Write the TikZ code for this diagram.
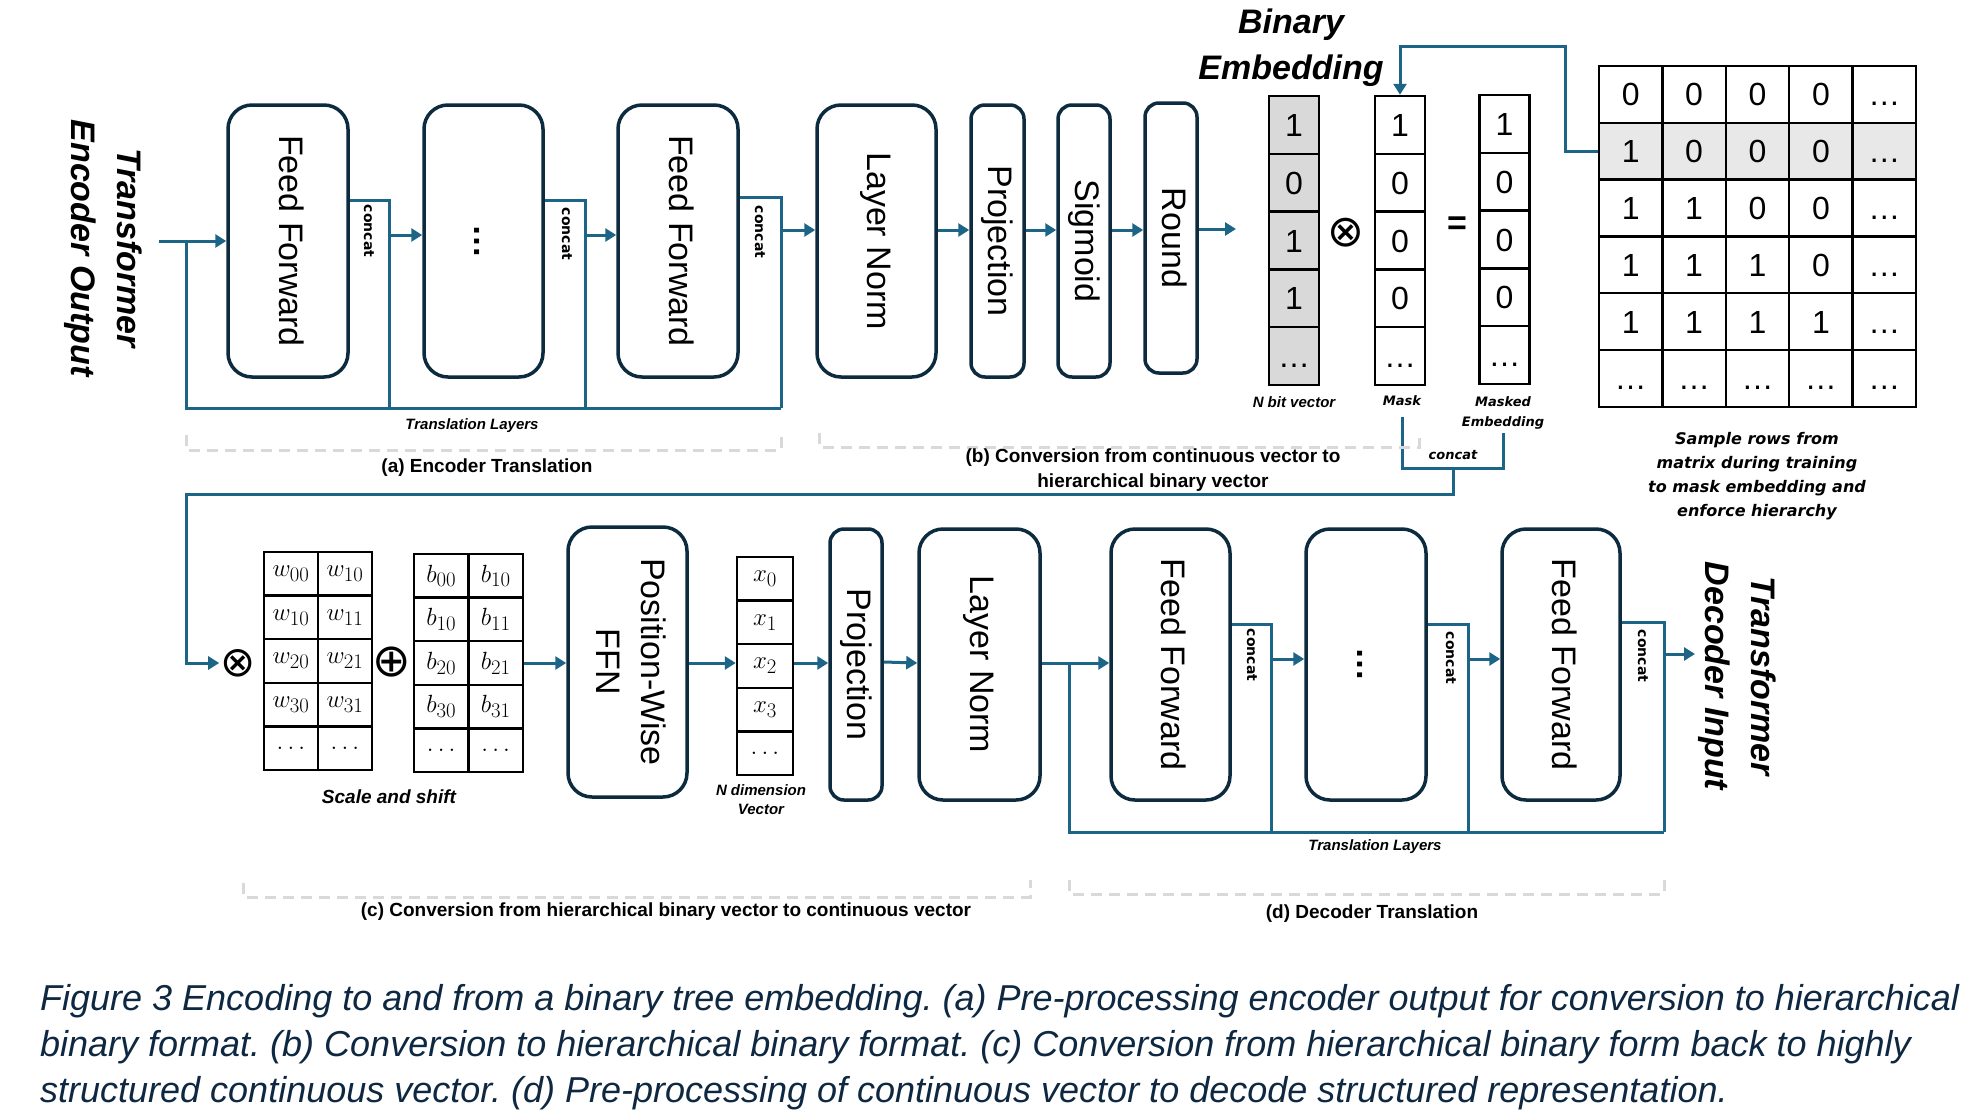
\documentclass[tikz,border=0pt]{standalone}
\usepackage{graphicx}
\usepackage{fontspec}
\setmainfont{Liberation Sans}
\newfontfamily\verdfont{DejaVu Sans}
\usetikzlibrary{arrows.meta}
\frenchspacing

\definecolor{flowblue}{HTML}{1C6587}
\definecolor{boxline}{HTML}{0D2B3E}
\definecolor{bracegray}{HTML}{D9D9D9}
\definecolor{bitgray}{HTML}{D9D9D9}
\definecolor{captext}{HTML}{0E2841}

\newcommand{\vtext}[1]{\rotatebox{-90}{\begin{tabular}{@{}c@{}}#1\end{tabular}}}

\tikzset{
  layer/.style={draw=boxline,line width=3.5pt,rounded corners=24pt,inner sep=0pt,
    minimum height=272pt,font=\fontsize{34}{45}\selectfont},
  slim/.style={layer,rounded corners=14pt},
  link/.style={draw=flowblue,line width=3pt},
  feed/.style={link,-{Triangle[length=11pt,width=13pt]}},
  bit/.style={draw=black,line width=2.5pt,inner sep=0pt,minimum width=50pt,
    minimum height=57.8pt,text height=23pt,text depth=0pt,font=\fontsize{32}{36}\selectfont},
  sym/.style={draw=black,line width=2.5pt,inner sep=0pt,minimum height=43.6pt,
    font=\fontsize{24.88}{28}\selectfont},
  op/.style={font=\verdfont\fontsize{44}{44}\selectfont,inner sep=1pt},
  concat/.style={rotate=-90,font=\verdfont\bfseries\fontsize{14}{16}\selectfont},
  tag/.style={font=\bfseries\itshape\fontsize{15}{19}\selectfont,align=center},
  vtag/.style={font=\verdfont\bfseries\itshape\fontsize{13}{20}\selectfont,align=center},
  note/.style={font=\verdfont\bfseries\itshape\fontsize{16}{24}\selectfont,align=center},
  part/.style={font=\bfseries\fontsize{19}{25}\selectfont,align=center},
  heading/.style={font=\bfseries\itshape\fontsize{34}{46}\selectfont,align=center},
  bracket/.style={draw=bracegray,line width=3pt,dash pattern=on 11pt off 7pt},
  capline/.style={font=\itshape\fontsize{36}{46}\selectfont,text=captext,
    anchor=base west,inner sep=0pt},
}

\begin{document}
\begin{tikzpicture}[x=1pt,y=-1pt]
\useasboundingbox (0,0) rectangle (1982,1114);

% (a) encoder translation
\node[heading,rotate=-90] (encout) at (103,248) {Transformer\\Encoder Output};
\node[layer,minimum width=120pt] (ff1) at (288,241) {\vtext{Feed Forward}};
\node[layer,minimum width=119pt] (dts1) at (483.5,241) {\rotatebox{-90}{\bfseries\strut\dots}};
\node[layer,minimum width=120pt] (ff2) at (678,241) {\vtext{Feed Forward}};

\coordinate (src) at (159,241);
\coordinate (skipa) at (186,241);
\coordinate (skipb) at (186,408);
\coordinate (cc1) at (389,200);
\coordinate (cc2) at (585,200);
\coordinate (cc3) at (781,197);
\draw[feed] (src) -- (ff1);
\draw[link] (skipa) -- (skipb) -- (skipb -| cc3);
\draw[link] (ff1.east |- cc1) -- (cc1) -- (cc1 |- skipb);
\draw[link] (dts1.east |- cc2) -- (cc2) -- (cc2 |- skipb);
\draw[link] (ff2.east |- cc3) -- (cc3) -- (cc3 |- skipb);
\draw[feed] (cc1 |- 0,235) -- (dts1.west |- 0,235);
\draw[feed] (cc2 |- 0,235) -- (ff2.west |- 0,235);

\node[concat] (cl1) at (369,231) {concat};
\node[concat] (cl2) at (567,234) {concat};
\node[concat] (cl3) at (760,232) {concat};
\node[tag] (tl1) at (472,426) {Translation Layers};
\draw[bracket] (186,435) -- (186,450) -- (781,450) -- (781,435);
\node[part] (pa) at (487,468) {(a) Encoder Translation};

% (b) continuous to binary
\node[layer,minimum width=119pt] (ln1) at (876.5,241) {\vtext{Layer Norm}};
\node[slim,minimum width=53pt] (pj1) at (997.5,241) {\vtext{Projection}};
\node[slim,minimum width=52pt] (sg) at (1084,241) {\vtext{Sigmoid}};
\node[slim,minimum width=52pt,minimum height=270pt] (rd) at (1171,238) {\vtext{Round}};
\coordinate (emb) at (1236,229);
\draw[feed] (cc3 |- 0,230) -- (ln1.west |- 0,230);
\draw[feed] (ln1.east |- 0,230) -- (pj1.west |- 0,230);
\draw[feed] (pj1.east |- 0,230) -- (sg.west |- 0,230);
\draw[feed] (sg.east |- 0,230) -- (rd.west |- 0,230);
\draw[feed] (rd.east |- emb) -- (emb);

\node[heading] (binemb) at (1291,48) {Binary\\Embedding};
\foreach \v [count=\i] in {1,0,1,1,\dots}
  \node[bit,fill=bitgray] (nb-\i) at (1294,{96+57.8*(\i-0.5)}) {\v};
\node[op] (mul1) at (1346,233) {⊗};
\foreach \v [count=\i] in {1,0,0,0,\dots}
  \node[bit] (mk-\i) at (1400,{96+57.8*(\i-0.5)}) {\v};
\node[font=\bfseries\fontsize{34}{34}\selectfont] (eq) at (1457,226) {=};
\foreach \v [count=\i] in {1,0,0,0,\dots}
  \node[bit] (me-\i) at (1504.5,{95+57.8*(\i-0.5)}) {\v};
\node[tag] (nbl) at (1294,402) {N bit vector};
\node[vtag] (mkl) at (1402,401) {Mask};
\node[vtag] (mel) at (1503,413) {Masked\\Embedding};

\foreach \row [count=\r] in {{0,0,0,0,\dots},{1,0,0,0,\dots},{1,1,0,0,\dots},{1,1,1,0,\dots},{1,1,1,1,\dots},{\dots,\dots,\dots,\dots,\dots}}{
  \pgfmathtruncatemacro\shade{\r==2 ? 91 : 100}
  \foreach \v [count=\c] in \row
    \node[bit,minimum width=63.4pt,minimum height=56.8pt,fill=white!\shade!black] (mx-\r-\c) at ({1599+63.4*(\c-0.5)},{66+56.8*(\r-0.5)}) {\v};
}
\node[note] (smp) at (1757,476) {Sample rows from\\matrix during training\\to mask embedding and\\enforce hierarchy};

\coordinate (fb) at (1565,46);
\draw[feed] (mx-2-1.west) -| (fb) -| (mk-1.north);

\coordinate (mj) at (1453,468);
\coordinate (ret) at (1453,494);
\coordinate (retl) at (186,494);
\coordinate (retd) at (186,663);
\draw[link,shorten <=7pt] (mkl.south) |- (mj) -| (mel.south);
\node[vtag] (mcl) at (1453,455) {concat};
\draw[bracket] (819,433) -- (819,447) -- (1419,447) -- (1419,433);
\node[part] (pb) at (1153,470) {(b) Conversion from continuous vector to\\hierarchical binary vector};

% (c) binary to continuous
\node[op,font=\verdfont\fontsize{42}{42}\selectfont] (mul2) at (238,663) {⊗};
\draw[feed] (mj) -- (ret) -- (retl) -- (retd) -- (mul2);
\foreach \row [count=\r] in {{w_{00},w_{10}},{w_{10},w_{11}},{w_{20},w_{21}},{w_{30},w_{31}},{\dots,\dots}}
  \foreach \v [count=\c] in \row
    \node[sym,minimum width=54pt] (wm-\r-\c) at ({264+54*(\c-0.5)},{552+43.6*(\r-0.5)}) {$\v$};
\node[op,font=\verdfont\fontsize{46}{46}\selectfont] (add) at (392,662) {⊕};
\foreach \row [count=\r] in {{b_{00},b_{10}},{b_{10},b_{11}},{b_{20},b_{21}},{b_{30},b_{31}},{\dots,\dots}}
  \foreach \v [count=\c] in \row
    \node[sym,minimum width=54.5pt] (bm-\r-\c) at ({414+54.5*(\c-0.5)},{554+43.6*(\r-0.5)}) {$\v$};
\node[tag,font=\bfseries\itshape\fontsize{19}{23}\selectfont] (ssl) at (389,797) {Scale and shift};

\node[layer,minimum width=119pt,minimum height=270pt] (pw) at (627.5,662) {\vtext{Position-Wise\\FFN}};
\foreach \v [count=\i] in {x_0,x_1,x_2,x_3,\dots}
  \node[sym,minimum width=56pt] (xv-\i) at (765,{557+43.6*(\i-0.5)}) {$\v$};
\node[tag] (ndl) at (761,800) {N dimension\\Vector};
\node[slim,minimum width=52pt,minimum height=271pt] (pj2) at (856,664.5) {\vtext{Projection}};
\node[layer,minimum width=121pt,minimum height=271pt] (ln2) at (979.5,664.5) {\vtext{Layer Norm}};
\draw[feed] (bm-3-2.east) -- (pw.west |- bm-3-2.east);
\draw[feed] (pw.east |- 0,663) -- (xv-3.west |- 0,663);
\draw[feed] (xv-3.east |- 0,663) -- (pj2.west |- 0,663);
\draw[feed] (pj2.east |- 0,662) -- (ln2.west |- 0,663);
\draw[bracket] (243,883) -- (243,897) -- (1030,897) -- (1030,880);
\node[part] (pc) at (666,912) {(c) Conversion from hierarchical binary vector to continuous vector};

% (d) decoder translation
\node[layer,minimum width=119pt,minimum height=271pt] (ff3) at (1170.5,664.5) {\vtext{Feed Forward}};
\node[layer,minimum width=120pt,minimum height=271pt] (dts2) at (1366,664.5) {\rotatebox{-90}{\bfseries\strut\dots}};
\node[layer,minimum width=118pt,minimum height=271pt] (ff4) at (1561,664.5) {\vtext{Feed Forward}};
\node[heading,rotate=-90] (decin) at (1737,676) {Transformer\\Decoder Input};

\coordinate (skipc) at (1069,663);
\coordinate (skipd) at (1069,832);
\coordinate (cc4) at (1271,624);
\coordinate (cc5) at (1468,624);
\coordinate (cc6) at (1664,622);
\coordinate (dec) at (1695,654);
\draw[feed] (ln2.east |- skipc) -- (ff3.west |- skipc);
\draw[link] (skipc) -- (skipd) -- (skipd -| cc6);
\draw[link] (ff3.east |- cc4) -- (cc4) -- (cc4 |- skipd);
\draw[link] (dts2.east |- cc5) -- (cc5) -- (cc5 |- skipd);
\draw[link] (ff4.east |- cc6) -- (cc6) -- (cc6 |- skipd);
\draw[feed] (cc4 |- 0,659) -- (dts2.west |- 0,659);
\draw[feed] (cc5 |- 0,659) -- (ff4.west |- 0,659);
\draw[feed] (cc6 |- dec) -- (dec);

\node[concat] (cl4) at (1252,655) {concat};
\node[concat] (cl5) at (1451,658) {concat};
\node[concat] (cl6) at (1643,656) {concat};
\node[tag] (tl2) at (1375,847) {Translation Layers};
\draw[bracket] (1069,880) -- (1069,894) -- (1664,894) -- (1664,880);
\node[part] (pd) at (1372,914) {(d) Decoder Translation};

% caption
\node[capline] (cap1) at (40,1010) {Figure 3 Encoding to and from a binary tree embedding. (a) Pre-processing encoder output for conversion to hierarchical};
\node[capline] (cap2) at (40,1056) {binary format. (b) Conversion to hierarchical binary format. (c) Conversion from hierarchical binary form back to highly};
\node[capline] (cap3) at (40,1102) {structured continuous vector. (d) Pre-processing of continuous vector to decode structured representation.};
\end{tikzpicture}
\end{document}
